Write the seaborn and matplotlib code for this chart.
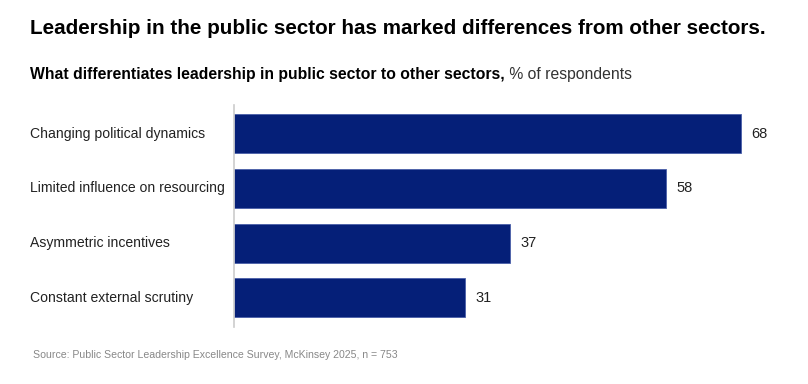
import matplotlib
matplotlib.use('Agg')
import matplotlib.pyplot as plt
import seaborn as sns
import pandas as pd

# chart data
categories = ['Changing political dynamics', 'Limited influence on resourcing',
              'Asymmetric incentives', 'Constant external scrutiny']
values = [68, 58, 37, 31]

title = 'Leadership in the public sector has marked differences from other sectors.'
subtitle_bold = 'What differentiates leadership in public sector to other sectors,'
subtitle_rest = ' % of respondents'
source = 'Source: Public Sector Leadership Excellence Survey, McKinsey 2025, n = 753'

df = pd.DataFrame({'category': categories, 'value': values})

sns.set_style('white')
plt.rcParams['font.family'] = ['Liberation Sans', 'DejaVu Sans']

W, H = 808, 384
fig = plt.figure(figsize=(W / 100, H / 100), dpi=100)
ax = fig.add_axes([234 / W, 1 - 327 / H, (790 - 234) / W, (327 - 105) / H])

bar_color = '#051f78'
sns.barplot(data=df, x='value', y='category', color=bar_color, width=0.71,
            edgecolor='#4a5fa8', linewidth=0.6, saturation=1, ax=ax)

ax.set_xlim(0, 556 / 7.455)
ax.set_ylim(len(categories) - 0.47, -0.52)
ax.set_xlabel('')
ax.set_ylabel('')
ax.set_xticks([])
ax.set_yticks([])
for s in ['top', 'right', 'bottom']:
    ax.spines[s].set_visible(False)
ax.spines['left'].set_color('#cccccc')
ax.spines['left'].set_linewidth(1.2)

# value labels and category labels
for i, (c, v) in enumerate(zip(categories, values)):
    ax.annotate(str(v), (v, i), xytext=(7.5, 0), textcoords='offset points',
                va='center', ha='left', fontsize=10.5, color='#222222')
    ax.annotate(c, xy=(30 / W, i), xycoords=('figure fraction', 'data'),
                va='center', ha='left', fontsize=10.1, color='#222222')

fig.text(30 / W, 1 - 28 / H, title, fontsize=14.9, fontweight='bold',
         va='center', ha='left', color='#000000')
t1 = fig.text(30 / W, 1 - 75 / H, subtitle_bold, fontsize=11.3, fontweight='bold',
              va='center', ha='left', color='#000000')
fig.canvas.draw()
bb = t1.get_window_extent()
fig.text(bb.x1 / W, 1 - 75 / H, subtitle_rest, fontsize=11.3,
         va='center', ha='left', color='#333333')

fig.text(33 / W, 1 - 355 / H, source, fontsize=7.6, va='center', ha='left',
         color='#888888')

fig.savefig('out.png', dpi=100)
